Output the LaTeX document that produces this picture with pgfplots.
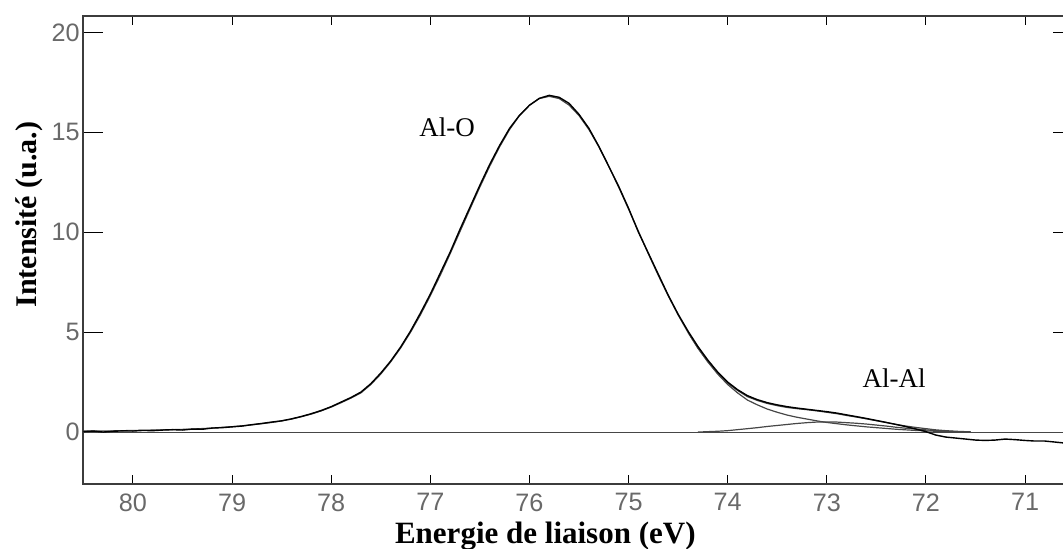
\documentclass[border=0pt]{standalone}
\usepackage{fontspec}
\setmainfont{Liberation Serif}
\newfontfamily\ticksfont{Liberation Sans}
\usepackage{pgfplots}
\usepackage{pgfplotstable}
\pgfplotsset{compat=1.18}

\definecolor{axiscolor}{RGB}{60,60,60}
\definecolor{tickcolor}{RGB}{105,105,105}
\definecolor{fitcolor}{RGB}{70,70,70}

% Al-O component
\pgfplotstableread{
x y
80.5 0.05
80.2 0.06
80.0 0.08
79.8 0.10
79.6 0.12
79.4 0.15
79.2 0.20
79.0 0.27
78.9 0.31
78.8 0.36
78.7 0.42
78.6 0.48
78.5 0.56
78.4 0.65
78.3 0.77
78.2 0.90
78.1 1.06
78.0 1.25
77.9 1.47
77.8 1.70
77.7 1.96
77.6 2.38
77.5 2.90
77.4 3.51
77.3 4.20
77.2 4.99
77.1 5.86
77.0 6.82
76.9 7.84
76.8 8.92
76.7 10.04
76.6 11.16
76.5 12.26
76.4 13.31
76.3 14.28
76.2 15.14
76.1 15.84
76.0 16.36
75.9 16.69
75.8 16.80
75.7 16.69
75.6 16.36
75.5 15.84
75.4 15.14
75.3 14.28
75.2 13.31
75.1 12.26
75.0 11.16
74.9 10.04
74.8 8.92
74.7 7.84
74.6 6.82
74.5 5.86
74.4 4.99
74.3 4.20
74.2 3.51
74.1 2.90
74.0 2.38
73.9 1.96
73.8 1.60
73.7 1.36
73.6 1.15
73.5 0.99
73.4 0.85
73.3 0.74
73.2 0.65
73.1 0.56
73.0 0.48
72.9 0.42
72.8 0.36
72.7 0.31
72.6 0.26
72.5 0.22
72.4 0.18
72.3 0.14
72.2 0.11
72.1 0.08
72.0 0.06
71.9 0.04
71.8 0.03
71.7 0.02
71.55 0.01
}\alo

% Al-Al component
\pgfplotstableread{
x y
74.3 0.00
74.2 0.02
74.1 0.04
74.0 0.07
73.9 0.12
73.8 0.17
73.7 0.22
73.6 0.28
73.5 0.33
73.4 0.38
73.3 0.43
73.2 0.47
73.1 0.50
73.0 0.51
72.9 0.50
72.8 0.47
72.7 0.44
72.6 0.40
72.5 0.35
72.4 0.30
72.3 0.24
72.2 0.19
72.1 0.15
72.0 0.11
71.9 0.07
71.8 0.04
71.7 0.02
71.55 0.00
}\alal

% fit envelope (right part, left of 74.4 equals Al-O)
\pgfplotstableread{
x y
74.4 4.99
74.3 4.20
74.2 3.53
74.1 2.94
74.0 2.45
73.9 2.08
73.8 1.77
73.7 1.58
73.6 1.43
73.5 1.32
73.4 1.23
73.3 1.17
73.2 1.12
73.1 1.06
73.0 0.99
72.9 0.92
72.8 0.83
72.7 0.75
72.6 0.66
72.5 0.57
72.4 0.48
72.3 0.38
72.2 0.30
72.1 0.23
72.0 0.17
71.9 0.11
71.8 0.07
71.7 0.04
71.55 0.01
}\fitright

% measured spectrum
\pgfplotstableread{
x y
80.5 0.02
80.4 0.05
80.3 0.00
80.2 0.04
80.1 0.06
80.0 0.05
79.9 0.08
79.8 0.07
79.7 0.10
79.6 0.12
79.5 0.10
79.4 0.15
79.3 0.14
79.2 0.20
79.1 0.22
79.0 0.26
78.9 0.30
78.8 0.37
78.7 0.43
78.6 0.50
78.5 0.56
78.4 0.66
78.3 0.78
78.2 0.92
78.1 1.08
78.0 1.27
77.9 1.50
77.8 1.73
77.7 2.00
77.6 2.42
77.5 2.95
77.4 3.55
77.3 4.25
77.2 5.05
77.1 5.95
77.0 6.90
76.9 7.95
76.8 9.00
76.7 10.15
76.6 11.25
76.5 12.35
76.4 13.40
76.3 14.35
76.2 15.20
76.1 15.85
76.0 16.35
75.9 16.70
75.8 16.85
75.7 16.75
75.6 16.45
75.5 15.90
75.4 15.20
75.3 14.30
75.2 13.30
75.1 12.30
75.0 11.20
74.9 10.00
74.8 8.95
74.7 7.90
74.6 6.85
74.5 5.90
74.4 5.05
74.3 4.28
74.2 3.60
74.1 3.00
74.0 2.50
73.9 2.12
73.8 1.82
73.7 1.62
73.6 1.47
73.5 1.36
73.4 1.27
73.3 1.20
73.2 1.14
73.1 1.08
73.0 1.02
72.9 0.95
72.8 0.86
72.7 0.77
72.6 0.68
72.5 0.58
72.4 0.48
72.3 0.38
72.2 0.27
72.1 0.15
72.0 0.02
71.9 -0.15
71.8 -0.25
71.7 -0.30
71.6 -0.35
71.5 -0.40
71.4 -0.42
71.3 -0.40
71.2 -0.35
71.1 -0.38
71.0 -0.42
70.9 -0.45
70.8 -0.45
70.7 -0.50
70.6 -0.55
70.5 -0.58
}\mesure

\begin{document}
\begin{tikzpicture}
\begin{axis}[
    name=ax,
    scale only axis,
    width=495pt, height=234pt,
    x dir=reverse,
    xmin=70.516, xmax=80.504,
    ymin=-2.6, ymax=20.82,
    xtick={71,72,...,80},
    ytick={0,5,10,15,20},
    tick align=inside,
    axis line style={draw=axiscolor, line width=0.75pt},
    xtick style={/pgfplots/major tick length=4.5pt, draw=black, line width=0.5pt},
    ytick style={/pgfplots/major tick length=10pt, draw=black, line width=0.5pt},
    /pgf/number format/assume math mode=true,
    tick label style={font=\ticksfont\fontsize{12.6}{14}\selectfont, text=tickcolor},
    xticklabel style={anchor=north, yshift=-4.5pt, inner sep=0pt},
    yticklabel style={anchor=east, xshift=-1.5pt, inner sep=0pt},
    xlabel={Energie de liaison (eV)},
    xlabel style={font=\bfseries\fontsize{15.5}{17}\selectfont, at={(axis description cs:0.467,-0.112)}, anchor=center},
    ylabel={Intensité (u.a.)},
    ylabel style={font=\bfseries\fontsize{15}{17}\selectfont, at={(axis description cs:-0.0545,0.576)}, anchor=center},
  ]

  % baseline
  \addplot[fitcolor, line width=0.5pt] coordinates {(80.6,0) (70.4,0)};
  % components
  \addplot[fitcolor, line width=0.6pt] table[x=x, y=y] {\alo};
  \addplot[fitcolor, line width=0.6pt] table[x=x, y=y] {\alal};
  % fit envelope
  \addplot[fitcolor, line width=0.6pt] table[x=x, y=y] {\fitright};
  % measured spectrum
  \addplot[black, line width=0.7pt] table[x=x, y=y] {\mesure};

  \node[font=\fontsize{13.5}{15}\selectfont] at (axis cs:76.83,15.24) {Al-O};
  \node[font=\fontsize{13.5}{15}\selectfont] at (axis cs:72.32,2.7) {Al-Al};
\end{axis}
\pgfresetboundingbox
\useasboundingbox ([xshift=-41.5pt, yshift=-32pt]ax.south west) rectangle ([xshift=-5pt, yshift=8pt]ax.north east);
\end{tikzpicture}
\end{document}
